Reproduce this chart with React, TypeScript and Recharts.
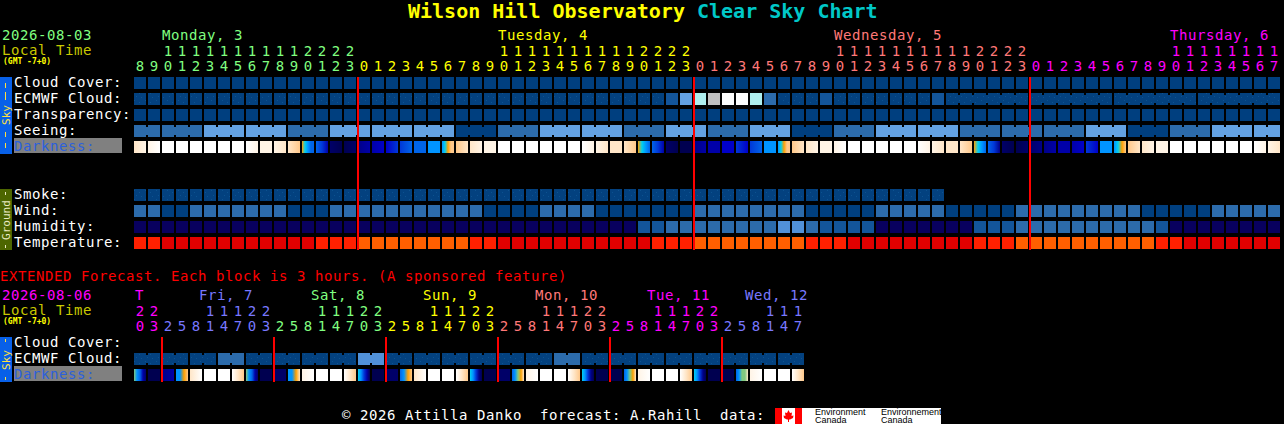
import { ScatterChart, Scatter, XAxis, YAxis } from 'recharts';

const FONT = '"DejaVu Sans Mono", monospace';
const TEXT_SIZE = 14;
// 14px DejaVu Mono advances 8.43, the reference sets text on a 9px grid
const TEXT_SPACING = 0.57;

// colour scales, the series below hold indexes into them
const skyScale = ['#003f7f', '#13559a', '#2c6bab', '#5191d8', '#63a1e2', '#aeeeee', '#c0c0c0', '#fbfbfb', '#08005e'];
const tempScale = ['#e10000', '#ff2000', '#ff5f00'];
const darkScale = [
  '#000050', '#000068', '#000088', '#0000a8', '#0000c8', '#0038d8', '#0064e8', '#0094ff',
  '#00d0f0', '#80c880', '#ffa000', '#ffc88a', '#ffe6c8', '#fff4e6', '#ffffff',
];
const dayColors = ['#80ff80', '#ffff00', '#ff7878', '#ff00ff', '#7878ff'];

// main chart, one value per hour
const hourLabels = [
  8, 9, 10, 11, 12, 13, 14, 15, 16, 17, 18, 19, 20, 21, 22, 23,
  0, 1, 2, 3, 4, 5, 6, 7, 8, 9, 10, 11, 12, 13, 14, 15, 16, 17, 18, 19, 20, 21, 22, 23,
  0, 1, 2, 3, 4, 5, 6, 7, 8, 9, 10, 11, 12, 13, 14, 15, 16, 17, 18, 19, 20, 21, 22, 23,
  0, 1, 2, 3, 4, 5, 6, 7, 8, 9, 10, 11, 12, 13, 14, 15, 16, 17,
];
const hourDays = [
  0, 0, 0, 0, 0, 0, 0, 0, 0, 0, 0, 0, 0, 0, 0, 0,
  1, 1, 1, 1, 1, 1, 1, 1, 1, 1, 1, 1, 1, 1, 1, 1, 1, 1, 1, 1, 1, 1, 1, 1,
  2, 2, 2, 2, 2, 2, 2, 2, 2, 2, 2, 2, 2, 2, 2, 2, 2, 2, 2, 2, 2, 2, 2, 2,
  3, 3, 3, 3, 3, 3, 3, 3, 3, 3, 3, 3, 3, 3, 3, 3, 3, 3,
];
const cloudCover = [
  0, 0, 0, 0, 0, 0, 0, 0, 0, 0, 0, 0, 0, 0, 0, 0, 0, 0, 0, 0, 0, 0, 0, 0, 0, 0, 0, 0, 0, 0, 0, 0, 0, 0, 0, 0, 0, 0, 0, 0, 0,
  0, 0, 0, 0, 0, 0, 0, 0, 0, 0, 0, 0, 0, 0, 0, 0, 0, 0, 0, 0, 0, 0, 0, 0, 0, 0, 0, 0, 0, 0, 0, 0, 0, 0, 0, 0, 0, 0, 0, 0, 0,
];
const ecmwfCloud = [
  0, 0, 0, 0, 0, 0, 0, 0, 0, 0, 0, 0, 0, 0, 0, 0, 0, 0, 0, 0, 0, 0, 0, 0, 0, 0, 0, 0, 0, 0, 0, 0, 0, 0, 0, 0, 0, 0, 1, 4, 5,
  6, 7, 7, 5, 2, 0, 0, 0, 1, 0, 0, 0, 0, 0, 0, 0, 1, 0, 0, 0, 0, 0, 0, 0, 0, 0, 0, 0, 0, 0, 0, 0, 0, 0, 0, 0, 0, 0, 0, 0, 0,
];
const transparency = [
  0, 0, 0, 0, 0, 0, 0, 0, 0, 0, 0, 0, 0, 0, 0, 0, 0, 0, 0, 0, 0, 0, 0, 0, 0, 0, 0, 0, 0, 0, 0, 0, 0, 0, 0, 0, 0, 0, 0, 0, 0,
  0, 0, 0, 0, 0, 0, 0, 0, 0, 0, 0, 0, 0, 0, 0, 0, 0, 0, 0, 0, 0, 0, 0, 0, 0, 0, 0, 0, 0, 0, 0, 0, 0, 0, 0, 0, 0, 0, 0, 0, 0,
];
// seeing comes in 3 hour blocks, the first and last block are cut to 2 hours
const seeingBlocks = [2, 2, 4, 4, 2, 4, 4, 4, 0, 2, 4, 4, 2, 4, 2, 4, 0, 2, 4, 4, 2, 2, 2, 4, 0, 2, 4, 4];
const darkness = [
  [12, 13], [13, 14], [14], [14], [14], [14], [14], [14], [14, 13], [13], [13, 12], [12, 11],
  [10, 8, 7, 6, 6], [6, 5, 3], [1, 0], [0, 1],
  [2, 3], [3, 4], [4, 5], [5, 6], [6], [7], [7, 8, 10, 11, 11], [11, 12], [12, 13], [13],
  [14], [14], [14], [14], [14], [14], [14, 13], [13, 12], [12], [12, 11],
  [10, 8, 7, 6], [6, 5, 3], [1, 0], [0],
  [2, 3], [3], [4], [5, 4], [5, 6], [7], [7, 8, 10, 11, 11], [11, 12], [12, 13], [13], [13, 14],
  [14], [14], [14], [14], [14], [14, 13], [13, 12], [12], [12, 11],
  [10, 8, 7, 6], [6, 5, 2], [1, 0], [0, 1],
  [1, 2], [2, 3], [3], [3, 4], [5, 4], [7], [7, 8, 10, 11], [11, 12], [12, 13], [13],
  [14], [14], [14], [14], [14], [14], [14, 13], [13, 12],
];
const smoke = [
  0, 0, 0, 0, 0, 0, 0, 0, 0, 0, 0, 0, 0, 0, 0, 0, 0, 0, 0, 0, 0, 0, 0, 0, 0, 0, 0, 0, 0,
  0, 0, 0, 0, 0, 0, 0, 0, 0, 0, 0, 0, 0, 0, 0, 0, 0, 0, 0, 0, 0, 0, 0, 0, 0, 0, 0, 0, 0,
];
const wind = [
  2, 2, 0, 0, 2, 2, 2, 2, 2, 2, 2, 0, 0, 0, 2, 2, 2, 2, 2, 2, 2, 2, 2, 2, 2, 0, 0, 0, 0, 2, 2, 2, 2, 0, 0, 0, 0, 0, 0, 0, 2,
  2, 2, 2, 2, 2, 2, 2, 0, 0, 0, 0, 0, 2, 2, 2, 2, 2, 0, 0, 0, 0, 0, 2, 2, 2, 2, 2, 2, 2, 2, 2, 0, 0, 0, 0, 0, 2, 2, 2, 2, 2,
];
const humidity = [
  8, 8, 8, 8, 8, 8, 8, 8, 8, 8, 8, 8, 8, 8, 8, 8, 8, 8, 8, 8, 8, 8, 8, 8, 8, 8, 8, 8, 8, 8, 8, 8, 8, 8, 8, 8, 1, 1, 2, 2, 2,
  2, 2, 2, 2, 2, 3, 3, 2, 1, 1, 1, 1, 8, 8, 8, 8, 8, 8, 8, 1, 1, 1, 2, 2, 2, 2, 2, 2, 2, 2, 2, 2, 1, 8, 8, 8, 8, 8, 8, 8, 8,
];
const temperature = [
  1, 1, 0, 0, 0, 0, 0, 0, 0, 0, 0, 0, 0, 1, 1, 1, 2, 2, 2, 2, 2, 2, 2, 2, 1, 1, 0, 0, 0, 0, 0, 0, 0, 0, 0, 0, 0, 1, 1, 1, 2,
  2, 2, 2, 2, 2, 2, 2, 1, 1, 1, 0, 0, 0, 0, 0, 0, 0, 0, 0, 1, 1, 1, 2, 2, 2, 2, 2, 2, 2, 2, 2, 2, 1, 1, 0, 0, 0, 0, 0, 0, 0,
];
// the cols where a joined ECMWF 6 hour block ends
const ecmwfBlockEnds = [63, 69, 75, 81];

// extended chart, one column per 3 hours
const extLabels = [
  20, 23, 2, 5, 8, 11, 14, 17, 20, 23, 2, 5, 8, 11, 14, 17, 20, 23, 2, 5, 8, 11, 14, 17,
  20, 23, 2, 5, 8, 11, 14, 17, 20, 23, 2, 5, 8, 11, 14, 17, 20, 23, 2, 5, 8, 11, 14, 17,
];
const extDays = [
  3, 3, 4, 4, 4, 4, 4, 4, 4, 4, 0, 0, 0, 0, 0, 0, 0, 0, 1, 1, 1, 1, 1, 1,
  1, 1, 2, 2, 2, 2, 2, 2, 2, 2, 3, 3, 3, 3, 3, 3, 3, 3, 4, 4, 4, 4, 4, 4,
];
const extEcmwfBlocks = [0, 0, 0, 2, 0, 0, 0, 0, 3, 0, 0, 0, 0, 0, 0, 2, 0, 0, 0, 0, 0, 0, 0, 0];
const extDarkness = [
  [9, 7, 6, 3, 1], [0], [2, 3], [7, 7, 10, 11], [12, 14], [14], [14], [14, 12, 11],
  [9, 7, 6, 3, 1], [0], [1], [7, 7, 10, 12], [13, 14], [14], [14], [14, 12, 11],
  [8, 7, 5, 3, 0], [0], [1], [6, 7, 10, 11], [12, 14], [14], [14], [14, 12, 11],
  [8, 7, 5, 2, 0], [0], [1], [6, 7, 9, 10, 12], [13, 14], [14], [14], [14, 12, 11],
  [8, 7, 5, 2, 0], [0], [0], [6, 7, 9, 10, 12], [13, 14], [14], [14], [14, 12, 11],
  [8, 7, 5, 2, 0], [0], [0], [6, 7, 9, 9, 12], [13, 14], [14], [14], [14, 12, 11],
];

// x position of the midnight lines in column units
const midnights = [15.57, 39.57, 63.57];
const extMidnights = [1.57, 9.57, 17.57, 25.57, 33.57, 41.57];

const mainRows = ['Cloud Cover:', 'ECMWF Cloud:', 'Transparency:', 'Seeing:', 'Darkness:', '', '', 'Smoke:', 'Wind:', 'Humidity:', 'Temperature:'];
const mainRowTicks = [0, 1, 2, 3, 4, 7, 8, 9, 10];
const extRows = ['Cloud Cover:', 'ECMWF Cloud:', 'Darkness:'];

const mainDayLabels = [
  { text: 'Monday, 3', col: 2, day: 0 },
  { text: 'Tuesday, 4', col: 26, day: 1 },
  { text: 'Wednesday, 5', col: 50, day: 2 },
  { text: 'Thursday, 6', col: 74, day: 3 },
];
const extDayLabels = [
  { text: 'T', x: 135, day: 3 },
  { text: 'Fri, 7', x: 199, day: 4 },
  { text: 'Sat, 8', x: 311, day: 0 },
  { text: 'Sun, 9', x: 423, day: 1 },
  { text: 'Mon, 10', x: 535, day: 2 },
  { text: 'Tue, 11', x: 647, day: 3 },
  { text: 'Wed, 12', x: 745, day: 4 },
];

const MAIN_ROW_DOMAIN = [-0.375, 10.4375];
const EXT_ROW_DOMAIN = [-0.375, 2.4375];

function seeingCols() {
  const out: number[] = [];
  seeingBlocks.forEach((v, i) => {
    const n = i === 0 || i === seeingBlocks.length - 1 ? 2 : 3;
    for (let k = 0; k < n; k++) out.push(v);
  });
  return out;
}

const seeing = seeingCols();
const seeingEnds = seeing.map((_, c) => c).filter((c) => (c + 1) % 3 === 2);
const extEcmwf = extEcmwfBlocks.flatMap((v) => [v, v]);
const extEnds = extEcmwf.map((_, c) => c).filter((c) => c % 2 === 1);

function points(values: number[], row: number, joinFrom = -1, ends: number[] = []) {
  return values.map((level, col) => ({
    col,
    row,
    level,
    join: joinFrom >= 0 && col >= joinFrom && col < values.length - 1 && !ends.includes(col),
  }));
}

function darkPoints(values: number[][], row: number) {
  return values.map((levels, col) => ({ col, row, levels }));
}

function Cell({ cx, cy, payload, scale, speck }: any) {
  const fill = speck && payload.level === 0 ? 'url(#speck)' : scale[payload.level];
  return (
    <g shapeRendering="crispEdges">
      <rect x={cx - 6} y={cy - 6} width={12} height={12} fill={fill} />
      {payload.join && <rect x={cx + 6} y={cy - 4} width={2} height={8} fill={fill} />}
    </g>
  );
}

function DarkCell({ cx, cy, payload, prefix }: any) {
  const id = `${prefix}-${payload.col}`;
  const lv: number[] = payload.levels;
  return (
    <g shapeRendering="crispEdges">
      <linearGradient id={id} x1="0" x2="1" y1="0" y2="0">
        {lv.map((l, i) => (
          <stop key={i} offset={lv.length > 1 ? i / (lv.length - 1) : 0} stopColor={darkScale[l]} />
        ))}
      </linearGradient>
      <rect x={cx - 6} y={cy - 6} width={12} height={12} fill={`url(#${id})`} />
    </g>
  );
}

function HourTick({ x, y, payload, labels, days, lift }: any) {
  const h = labels[payload.value];
  const color = dayColors[days[payload.value]];
  return (
    <g fontFamily={FONT} fontSize={TEXT_SIZE} fill={color} textAnchor="middle">
      {h >= 10 && <text x={x} y={y - lift - 15}>{Math.floor(h / 10)}</text>}
      <text x={x} y={y - lift}>{h % 10}</text>
    </g>
  );
}

function RowTick({ y, payload, names }: any) {
  const name = names[payload.value];
  const dark = name === 'Darkness:';
  return (
    <g fontFamily={FONT} fontSize={TEXT_SIZE} letterSpacing={TEXT_SPACING}>
      {dark && <rect x={14} y={y - 9} width={108} height={15} fill="#808080" />}
      <text x={14} y={y + 3.5} fill={dark ? '#2c60dc' : '#ffffff'}>{name}</text>
    </g>
  );
}

function Label({ x, y, color, children }: any) {
  return (
    <text x={x} y={y} fill={color} fontFamily={FONT} fontSize={TEXT_SIZE} letterSpacing={TEXT_SPACING} style={{ whiteSpace: 'pre' }}>
      {children}
    </text>
  );
}

function GmtLabel({ y }: any) {
  return (
    <text x={3} y={y} fill="#ffff00" fontFamily={FONT} fontSize={8} fontWeight="bold">(GMT -7+0)</text>
  );
}

function SideBar({ y, height, color, text, textColor, textY, dashes }: any) {
  return (
    <g>
      <rect x={0} y={y} width={12} height={height} fill={color} />
      {dashes.map((d: number[], i: number) => (
        <rect key={i} x={5} y={d[0]} width={1} height={d[1]} fill={textColor} />
      ))}
      <text
        transform={`translate(9.5 ${textY}) rotate(-90)`}
        textAnchor="middle"
        fontFamily={FONT}
        fontSize={11}
        fill={textColor}
      >
        {text}
      </text>
    </g>
  );
}

function Backdrop() {
  return (
    <svg width={1284} height={424} style={{ position: 'absolute', left: 0, top: 0 }}>
      <defs>
        <pattern id="speck" width={11} height={9} patternUnits="userSpaceOnUse">
          <rect width={11} height={9} fill="#03417f" />
          <rect x={2} y={1} width={1} height={1} fill="#0c5290" />
          <rect x={7} y={3} width={1} height={1} fill="#0c5290" />
          <rect x={4} y={6} width={1} height={1} fill="#0c5290" />
          <rect x={9} y={7} width={1} height={1} fill="#0c5290" />
        </pattern>
      </defs>

      <text x={408} y={18} fontFamily={FONT} fontSize={20} fontWeight="bold" style={{ whiteSpace: 'pre' }}>
        <tspan fill="#ffff00">Wilson Hill Observatory </tspan>
        <tspan fill="#00c8c8">Clear Sky Chart</tspan>
      </text>

      <Label x={2} y={40} color="#80ff80">2026-08-03</Label>
      <Label x={2} y={55} color="#c8c800">Local Time</Label>
      <GmtLabel y={64} />
      {mainDayLabels.map((d) => (
        <Label key={d.text} x={134 + d.col * 14} y={40} color={dayColors[d.day]}>{d.text}</Label>
      ))}

      <SideBar y={77} height={77} color="#0860e8" text="Sky" textColor="#ffe040" textY={115} dashes={[[83, 5], [92, 8], [132, 5], [143, 5]]} />
      <SideBar y={189} height={61} color="#4d6600" text="Ground" textColor="#e8e8c0" textY={220} dashes={[[192, 3], [245, 3]]} />
      <SideBar y={337} height={45} color="#0860e8" text="Sky" textColor="#ffe040" textY={360} dashes={[[339, 3], [377, 3]]} />

      <Label x={0} y={281} color="#ff0000">EXTENDED Forecast. Each block is 3 hours. (A sponsored feature)</Label>
      <Label x={2} y={300} color="#ff00ff">2026-08-06</Label>
      <Label x={2} y={315} color="#c8c800">Local Time</Label>
      <GmtLabel y={324} />
      {extDayLabels.map((d) => (
        <Label key={d.text} x={d.x} y={300} color={dayColors[d.day]}>{d.text}</Label>
      ))}

      <Label x={342} y={420} color="#ffffff">© 2026 Attilla Danko  forecast: A.Rahill  data:</Label>
      <rect x={775} y={408} width={166} height={16} fill="#ffffff" />
      <rect x={775} y={408} width={7} height={16} fill="#ff0000" />
      <rect x={795} y={408} width={7} height={16} fill="#ff0000" />
      <polygon
        points="788.5,410 790,413 792,412.5 791.5,416 793.5,415.5 793,418 790,419.5 789,419.5 789,422 788,422 788,419.5 787,419.5 784,418 783.5,415.5 785.5,416 785,412.5 787,413"
        fill="#ff0000"
      />
      <g fontFamily="Liberation Sans, sans-serif" fontSize={9} fill="#000000">
        <text x={815} y={415}>Environment</text>
        <text x={815} y={423}>Canada</text>
        <text x={881} y={415}>Environnement</text>
        <text x={881} y={423}>Canada</text>
      </g>
    </svg>
  );
}

// midnight marker, a two point scatter so it paints over the cells
function midnightSeries(xs: number[], rows: number[]) {
  return xs.map((m) => (
    <Scatter
      key={`m${m}`}
      data={[{ col: m, row: rows[0] }, { col: m, row: rows[1] }]}
      line={{ stroke: '#ff0000', strokeWidth: 2 }}
      shape={() => <g />}
      isAnimationActive={false}
    />
  ));
}

function MainChart() {
  const series: [number[], number, any[], number[]?, boolean?][] = [
    [cloudCover, 0, skyScale],
    [ecmwfCloud, 1, skyScale, ecmwfBlockEnds, true],
    [transparency, 2, skyScale],
    [seeing, 3, skyScale, seeingEnds],
    [smoke, 7, skyScale, undefined, true],
    [wind, 8, skyScale],
    [humidity, 9, skyScale],
    [temperature, 10, tempScale],
  ];
  return (
    <div style={{ position: 'absolute', left: 0, top: 0 }}>
      <ScatterChart width={1284} height={250} margin={{ top: 0, right: 4, bottom: 0, left: 0 }}>
        <XAxis
          type="number"
          dataKey="col"
          orientation="top"
          height={77}
          domain={[-6 / 14, 81 + 6 / 14]}
          ticks={hourLabels.map((_, i) => i)}
          interval={0}
          axisLine={false}
          tickLine={false}
          tickSize={0}
          tick={(p: any) => <HourTick {...p} labels={hourLabels} days={hourDays} lift={4} />}
        />
        <YAxis
          type="number"
          dataKey="row"
          width={134}
          reversed
          domain={MAIN_ROW_DOMAIN}
          ticks={mainRowTicks}
          interval={0}
          axisLine={false}
          tickLine={false}
          tick={(p: any) => <RowTick {...p} names={mainRows} />}
        />
        {series.map(([values, row, scale, ends, speck]) => (
          <Scatter
            key={row}
            data={points(values, row, row === 1 ? 58 : row === 3 ? 0 : -1, ends)}
            isAnimationActive={false}
            shape={(p: any) => <Cell {...p} scale={scale} speck={speck} />}
          />
        ))}
        <Scatter
          data={darkPoints(darkness, 4)}
          isAnimationActive={false}
          shape={(p: any) => <DarkCell {...p} prefix="dark" />}
        />
        {midnightSeries(midnights, MAIN_ROW_DOMAIN)}
      </ScatterChart>
    </div>
  );
}

function ExtendedChart() {
  return (
    <div style={{ position: 'absolute', left: 0, top: 0 }}>
      <ScatterChart width={808} height={382} margin={{ top: 0, right: 4, bottom: 0, left: 0 }}>
        <XAxis
          type="number"
          dataKey="col"
          orientation="top"
          height={337}
          domain={[-6 / 14, 47 + 6 / 14]}
          ticks={extLabels.map((_, i) => i)}
          interval={0}
          axisLine={false}
          tickLine={false}
          tickSize={0}
          tick={(p: any) => <HourTick {...p} labels={extLabels} days={extDays} lift={4} />}
        />
        <YAxis
          type="number"
          dataKey="row"
          width={134}
          reversed
          domain={EXT_ROW_DOMAIN}
          ticks={[0, 1, 2]}
          interval={0}
          axisLine={false}
          tickLine={false}
          tick={(p: any) => <RowTick {...p} names={extRows} />}
        />
        <Scatter
          data={points(extEcmwf, 1, 0, extEnds)}
          isAnimationActive={false}
          shape={(p: any) => <Cell {...p} scale={skyScale} speck />}
        />
        <Scatter
          data={darkPoints(extDarkness, 2)}
          isAnimationActive={false}
          shape={(p: any) => <DarkCell {...p} prefix="extdark" />}
        />
        {midnightSeries(extMidnights, EXT_ROW_DOMAIN)}
      </ScatterChart>
    </div>
  );
}

export default function App() {
  return (
    <div style={{ position: 'absolute', left: 0, top: 0, width: 1284, height: 424, background: '#000000', overflow: 'hidden' }}>
      <Backdrop />
      <MainChart />
      <ExtendedChart />
    </div>
  );
}
